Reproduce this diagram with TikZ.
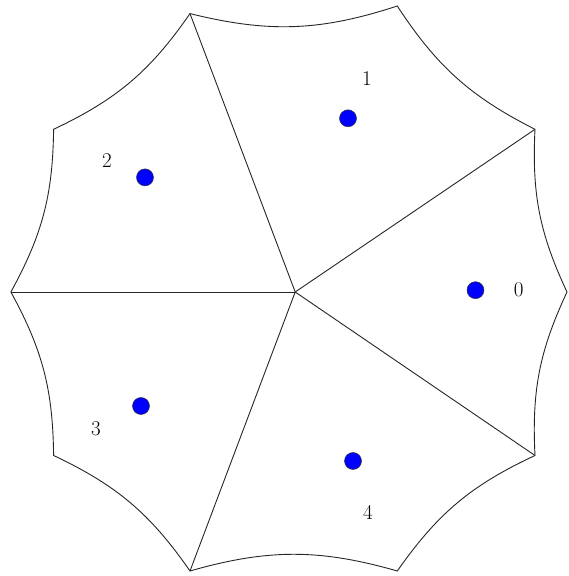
\documentclass[tikz,border=0pt]{standalone}
\begin{document}
\begin{tikzpicture}[
    x=1pt, y=1pt,
    edge/.style={line width=0.9pt, color=black!85},
    site/.style={circle, draw=black!80, line width=0.5pt, fill=blue,
                 minimum size=17pt, inner sep=0pt},
    lbl/.style={font=\fontsize{21}{24}\selectfont, inner sep=0pt},
]
\useasboundingbox (0,0) rectangle (568,576);

% === Outer vertices ===
\coordinate (v0) at (567,284);
\coordinate (v1) at (535,446.7);
\coordinate (v2) at (397.3,570);
\coordinate (v3) at (190,562.4);
\coordinate (v4) at (53.6,446.7);
\coordinate (v5) at (10.9,284);
\coordinate (v6) at (53.6,120.5);
\coordinate (v7) at (190,5);
\coordinate (v8) at (397.3,5);
\coordinate (v9) at (535,120.5);
\coordinate (c) at (295.2,284);

% === Outer boundary (concave arcs) ===
\draw[edge] (v0) to[bend left=14] (v1) to[bend left=15] (v2)
    to[bend left=16] (v3) to[bend left=15] (v4) to[bend left=14] (v5)
    to[bend left=14] (v6) to[bend left=15] (v7) to[bend left=16] (v8)
    to[bend left=15] (v9) to[bend left=14] (v0);

% === Spokes from the centre ===
\foreach \v in {v1,v3,v5,v7,v9}
    \draw[edge] (c) -- (\v);

% === Sites ===
\node[site] (s0) at (475.5,285.8) {};
\node[site] (s1) at (348,457.7) {};
\node[site] (s2) at (145,398.6) {};
\node[site] (s3) at (141,170) {};
\node[site] (s4) at (353,115) {};

% === Site labels ===
\node[lbl] (l0) at (518.6,286) {0};
\node[lbl] (l1) at (367,497) {1};
\node[lbl] (l2) at (107,415.5) {2};
\node[lbl] (l3) at (96,147) {3};
\node[lbl] (l4) at (368,63.5) {4};

\end{tikzpicture}
\end{document}
